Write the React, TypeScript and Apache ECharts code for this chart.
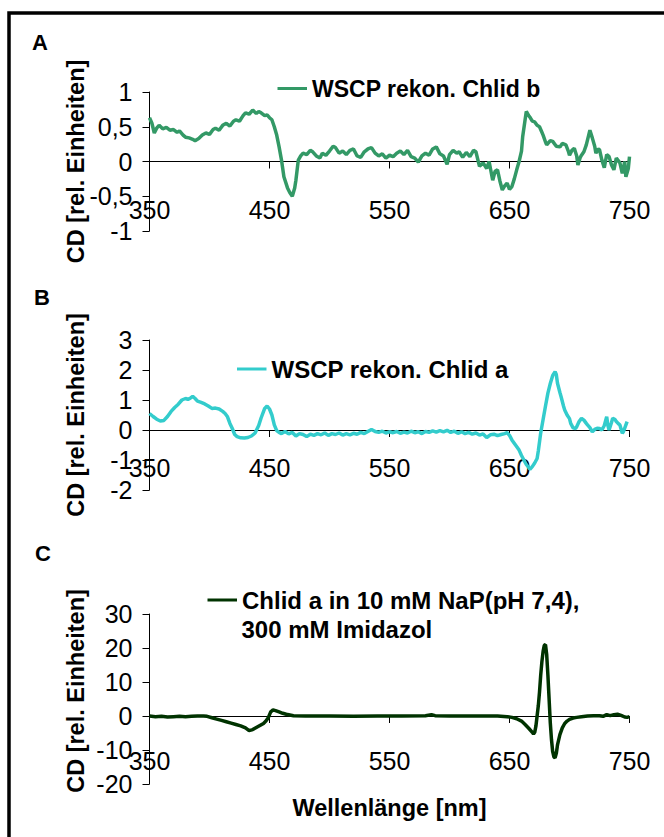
import React, { useEffect, useRef } from "react";
import * as echarts from "echarts";

const FONT = '"Liberation Sans", Arial, Helvetica, sans-serif';

// X axis (wavelength, nm)
const X_MIN = 350;
const X_MAX = 750;
const X_STEP = 100;

// Panel titles / labels
const panelLetters = ["A", "B", "C"];
const seriesNames = [
  "WSCP rekon. Chlid b",
  "WSCP rekon. Chlid a",
  "Chlid a in 10 mM NaP(pH 7,4),",
];
const legendSecondLine = "300 mM Imidazol";
const yTitle = "CD [rel. Einheiten]";
const xTitle = "Wellenlänge [nm]";

// Y axis ranges per panel [min, max, step]
const yRangeA = [-1, 1, 0.5];
const yRangeB = [-2, 3, 1];
const yRangeC = [-20, 30, 10];

// Panel A: WSCP rekon. Chlid b  [nm, CD]
const spectrumA: [number, number][] = [
  [350, 0.63], [352, 0.55], [354, 0.41], [356, 0.48], [358, 0.52], [361, 0.47], [364, 0.49],
  [367, 0.45], [370, 0.46], [373, 0.42], [375, 0.44], [378, 0.38], [380, 0.35], [383, 0.34],
  [386, 0.32], [388, 0.30], [391, 0.33], [394, 0.38], [397, 0.41], [400, 0.39], [403, 0.46],
  [405, 0.48], [408, 0.45], [411, 0.52], [414, 0.55], [417, 0.51], [420, 0.58], [422, 0.60],
  [425, 0.58], [428, 0.66], [430, 0.70], [433, 0.68], [436, 0.74], [439, 0.69], [441, 0.72],
  [443, 0.70], [446, 0.66], [448, 0.67], [450, 0.63], [452, 0.60], [454, 0.50], [456, 0.38],
  [458, 0.21], [460, 0.02], [462, -0.22], [465, -0.38], [467, -0.45], [469, -0.50], [471, -0.38],
  [472, -0.27], [474, 0.02], [476, 0.08], [478, 0.12], [481, 0.10], [484, 0.16], [486, 0.14],
  [489, 0.08], [492, 0.05], [494, 0.12], [497, 0.09], [500, 0.15], [503, 0.22], [505, 0.20],
  [508, 0.12], [511, 0.15], [514, 0.10], [517, 0.16], [520, 0.18], [523, 0.08], [526, 0.06],
  [529, 0.14], [532, 0.18], [535, 0.20], [538, 0.12], [541, 0.08], [544, 0.11], [547, 0.05],
  [550, 0.09], [553, 0.07], [556, 0.12], [559, 0.15], [562, 0.10], [565, 0.16], [568, 0.07],
  [571, 0.05], [574, -0.01], [577, 0.08], [580, 0.12], [583, 0.09], [586, 0.18], [589, 0.21],
  [592, 0.11], [595, 0.08], [598, -0.04], [600, 0.10], [603, 0.16], [606, 0.12], [608, 0.14],
  [611, 0.06], [614, 0.13], [617, 0.07], [620, 0.16], [622, 0.14], [625, -0.07], [628, -0.02],
  [631, -0.10], [633, 0.00], [636, -0.27], [638, -0.14], [640, -0.12], [642, -0.28], [644, -0.41],
  [646, -0.35], [648, -0.31], [650, -0.40], [652, -0.36], [654, -0.25], [656, -0.12], [658, 0.00],
  [660, 0.15], [661, 0.36], [663, 0.60], [664, 0.72], [666, 0.66], [667, 0.64], [669, 0.58],
  [671, 0.57], [673, 0.52], [675, 0.50], [677, 0.42], [678, 0.38], [680, 0.28], [681, 0.24],
  [684, 0.30], [686, 0.29], [689, 0.22], [692, 0.21], [694, 0.26], [697, 0.24], [699, 0.15],
  [700, 0.09], [702, 0.16], [704, 0.19], [706, 0.08], [707, -0.05], [709, 0.06], [710, 0.09],
  [712, 0.14], [714, 0.24], [716, 0.38], [717, 0.45], [719, 0.34], [721, 0.22], [722, 0.12],
  [724, 0.18], [725, 0.17], [727, 0.02], [729, -0.09], [731, 0.10], [733, 0.07], [735, -0.05],
  [737, -0.12], [739, 0.05], [742, -0.02], [744, -0.17], [746, 0.00], [747, -0.22], [749, -0.10],
  [750, 0.07],
];

// Panel B: WSCP rekon. Chlid a
const spectrumB: [number, number][] = [
  [350, 0.55], [353, 0.45], [356, 0.36], [359, 0.30], [362, 0.32], [365, 0.45], [368, 0.62],
  [371, 0.75], [374, 0.86], [377, 1.00], [380, 1.05], [382, 1.02], [384, 1.06], [386, 1.12],
  [388, 1.05], [390, 0.96], [393, 0.92], [396, 0.87], [399, 0.80], [402, 0.72], [405, 0.73],
  [408, 0.70], [411, 0.62], [413, 0.55], [415, 0.44], [417, 0.22], [419, 0.05], [421, -0.15],
  [423, -0.22], [426, -0.26], [429, -0.27], [432, -0.25], [435, -0.20], [438, -0.10], [441, 0.15],
  [443, 0.40], [446, 0.72], [448, 0.80], [450, 0.70], [452, 0.50], [454, 0.17], [456, -0.02],
  [458, -0.08], [460, -0.12], [463, -0.05], [466, -0.13], [469, -0.08], [472, -0.20], [475, -0.12],
  [478, -0.15], [481, -0.22], [484, -0.14], [487, -0.18], [490, -0.12], [493, -0.16], [496, -0.10],
  [499, -0.18], [502, -0.12], [505, -0.15], [508, -0.10], [511, -0.17], [514, -0.12], [517, -0.16],
  [520, -0.11], [523, -0.14], [526, -0.08], [529, -0.12], [532, -0.05], [535, 0.02], [538, -0.05],
  [541, -0.08], [544, -0.04], [547, -0.10], [550, -0.06], [553, -0.09], [556, -0.05], [559, -0.11],
  [562, -0.07], [565, -0.10], [568, -0.04], [571, -0.09], [574, -0.06], [577, -0.12], [580, -0.05],
  [583, -0.08], [586, -0.03], [589, -0.07], [592, -0.02], [595, -0.06], [598, -0.01], [601, -0.08],
  [604, -0.04], [607, -0.11], [610, -0.06], [613, -0.12], [616, -0.08], [619, -0.14], [622, -0.10],
  [625, -0.17], [628, -0.13], [631, -0.25], [634, -0.16], [637, -0.14], [640, -0.19], [643, -0.15],
  [646, -0.12], [648, -0.09], [650, -0.18], [652, -0.33], [655, -0.50], [658, -0.67], [660, -0.85],
  [662, -1.00], [664, -1.15], [666, -1.25], [667, -1.31], [669, -1.22], [671, -1.10], [673, -0.95],
  [674, -0.70], [676, -0.10], [678, 0.35], [680, 0.80], [682, 1.23], [684, 1.55], [686, 1.82],
  [688, 1.94], [689, 1.85], [690, 1.56], [692, 1.25], [693, 1.11], [695, 0.80], [696, 0.67],
  [698, 0.50], [700, 0.38], [701, 0.22], [703, 0.07], [705, 0.05], [706, 0.11], [708, 0.28],
  [710, 0.39], [712, 0.33], [714, 0.22], [715, 0.17], [717, 0.08], [719, -0.06], [721, 0.02],
  [723, 0.06], [725, 0.05], [727, 0.00], [729, 0.15], [731, 0.44], [732, 0.15], [733, 0.00],
  [735, 0.25], [736, 0.39], [738, 0.35], [739, 0.28], [741, 0.20], [742, 0.17], [744, -0.11],
  [745, -0.05], [747, 0.17], [748, 0.28],
];

// Panel C: Chlid a in 10 mM NaP (pH 7,4), 300 mM Imidazol
const spectrumC: [number, number][] = [
  [350, 0], [355, -0.2], [360, -0.1], [365, -0.3], [370, -0.2], [375, -0.1], [380, -0.2],
  [385, -0.1], [390, 0], [395, 0], [398, -0.1], [402, -0.5], [406, -0.9], [410, -1.3],
  [414, -1.7], [418, -2.1], [422, -2.5], [426, -2.9], [430, -3.5], [433, -4.3], [436, -4.0],
  [439, -3.4], [442, -2.8], [445, -2.2], [447, -1.5], [449, -0.5], [451, 1.2], [453, 1.8],
  [455, 1.6], [458, 1.2], [461, 0.8], [464, 0.5], [467, 0.3], [470, 0.1], [480, 0], [500, 0],
  [520, -0.1], [540, 0], [560, 0], [580, 0.1], [585, 0.4], [588, 0.1], [600, 0], [620, 0],
  [640, 0], [648, -0.2], [652, -0.4], [656, -0.8], [660, -1.5], [663, -2.5], [666, -3.6],
  [669, -4.8], [670, -5.3], [671, -4.8], [672, -3.0], [673, 0], [674, 3], [675, 7], [676, 12],
  [677, 16], [678, 19], [679, 20.8], [680, 21], [681, 18], [682, 12], [683, 5], [684, -2],
  [685, -7], [686, -10.5], [687, -12], [688, -12.3], [689, -11], [690, -8.5], [692, -5.5],
  [694, -3.5], [696, -2.2], [698, -1.5], [700, -1.0], [703, -0.6], [706, -0.4], [710, -0.2],
  [715, 0], [720, 0.1], [725, 0.1], [728, -0.1], [731, 0.4], [734, 0.1], [737, 0.4], [740, 0.5],
  [743, 0.2], [746, -0.3], [748, -0.4], [750, -0.2],
];

const colors = ["#339966", "#33CCCC", "#003300"];

const grids = [
  { left: 149.5, top: 92, width: 480, height: 139 },
  { left: 149.5, top: 340, width: 480, height: 150 },
  { left: 149.5, top: 614, width: 480, height: 170 },
];
const xLabelMargins = [35.5, 25, 32];
const yNamePadding = [0, 0, 16];
const legendPos = [
  { left: 277.5, top: 77, size: 23 },
  { left: 237, top: 357, size: 24 },
  { left: 207.5, top: 588, size: 24 },
];
const letterPos = [
  { x: 32, y: 42.5 },
  { x: 34, y: 297.5 },
  { x: 35, y: 553.5 },
];

const fmt = (v: number) => String(v).replace(".", ",");

export default function App() {
  const ref = useRef<HTMLDivElement>(null);
  useEffect(() => {
    if (!ref.current) return;
    const chart = echarts.init(ref.current, undefined, { renderer: "svg" });
    const yRanges = [yRangeA, yRangeB, yRangeC];
    const data = [spectrumA, spectrumB, spectrumC];

    const option: any = {
      animation: false,
      backgroundColor: "#fff",
      textStyle: { fontFamily: FONT },
      grid: grids,
      xAxis: grids.map((g, i) => ({
        type: "value",
        gridIndex: i,
        min: X_MIN,
        max: X_MAX,
        interval: X_STEP,
        position: "bottom",
        // place the axis at the y = 0 level of its grid
        offset: -(g.height * (0 - yRanges[i][0])) / (yRanges[i][1] - yRanges[i][0]),
        axisLine: { show: true, onZero: false, lineStyle: { color: "#000", width: 1 } },
        axisTick: { show: true, length: 7, lineStyle: { color: "#000", width: 1 } },
        axisLabel: {
          margin: xLabelMargins[i],
          fontSize: 25,
          color: "#000",
          fontFamily: FONT,
          interval: 0,
          showMinLabel: true,
          showMaxLabel: true,
          hideOverlap: false,
        },
        splitLine: { show: false },
        name: i === 2 ? xTitle : "",
        nameLocation: "middle",
        nameGap: 80,
        nameMoveOverlap: false,
        nameTextStyle: { fontSize: 23.5, fontWeight: "bold", color: "#000", fontFamily: FONT },
      })),
      yAxis: grids.map((_, i) => ({
        type: "value",
        gridIndex: i,
        min: yRanges[i][0],
        max: yRanges[i][1],
        interval: yRanges[i][2],
        axisLine: { show: true, onZero: false, lineStyle: { color: "#000", width: 1 } },
        axisTick: { show: true, length: 7, lineStyle: { color: "#000", width: 1 } },
        axisLabel: {
          margin: 17,
          fontSize: 25,
          color: "#000",
          fontFamily: FONT,
          formatter: fmt,
          interval: 0,
          showMinLabel: true,
          showMaxLabel: true,
          hideOverlap: false,
        },
        splitLine: { show: false },
        name: yTitle,
        nameLocation: "middle",
        nameRotate: 90,
        nameGap: 62,
        nameMoveOverlap: false,
        nameTextStyle: {
          fontSize: 23.5,
          fontWeight: "bold",
          color: "#000",
          fontFamily: FONT,
          padding: [0, 0, 0, yNamePadding[i]],
        },
      })),
      legend: grids.map((_, i) => ({
        data: [seriesNames[i]],
        left: legendPos[i].left,
        top: legendPos[i].top,
        padding: 0,
        icon: "rect",
        itemWidth: 29.5,
        itemHeight: 3,
        selectedMode: false,
        textStyle: {
          fontSize: legendPos[i].size,
          fontWeight: "bold",
          color: "#000",
          fontFamily: FONT,
        },
      })),
      series: data.map((d, i) => ({
        name: seriesNames[i],
        type: "line",
        xAxisIndex: i,
        yAxisIndex: i,
        data: d,
        symbol: "none",
        showSymbol: false,
        color: colors[i],
        lineStyle: { color: colors[i], width: 3.5 },
        z: 3,
      })),
      graphic: [
        {
          type: "rect",
          silent: true,
          shape: { x: 9, y: 13, width: 700, height: 900 },
          style: { fill: "none", stroke: "#000", lineWidth: 3.5 },
        },
        ...panelLetters.map((t, i) => ({
          type: "text",
          silent: true,
          x: letterPos[i].x,
          y: letterPos[i].y,
          style: {
            text: t,
            font: `bold 22px ${FONT}`,
            fill: "#000",
            textAlign: "left",
            textVerticalAlign: "middle",
          },
        })),
        {
          type: "text",
          silent: true,
          x: 241.5,
          y: 629,
          style: {
            text: legendSecondLine,
            font: `bold 24px ${FONT}`,
            fill: "#000",
            textAlign: "left",
            textVerticalAlign: "middle",
          },
        },
      ],
    };
    chart.setOption(option);
    return () => chart.dispose();
  }, []);
  return (
    <div
      ref={ref}
      style={{ position: "absolute", left: 0, top: 0, width: 664, height: 837, background: "#fff" }}
    />
  );
}
